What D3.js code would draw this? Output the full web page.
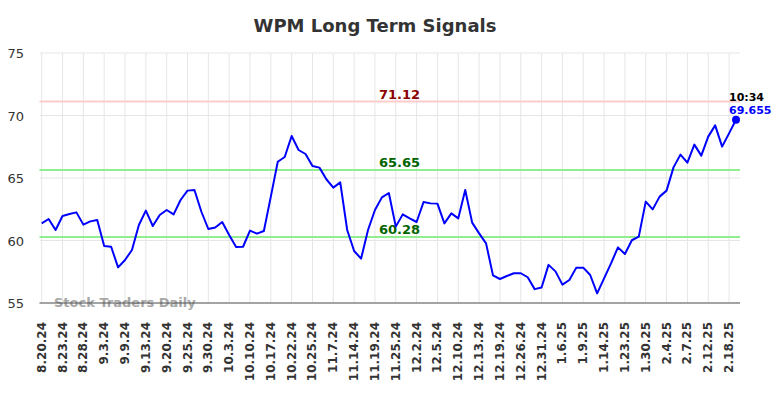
<!DOCTYPE html>
<html>
<head>
<meta charset="utf-8">
<script src="https://cdn.jsdelivr.net/npm/d3@7/dist/d3.min.js"></script>
<style>
  body { margin: 0; background: #fff; }
  svg { display: block; font-family: "DejaVu Sans", sans-serif; }
</style>
</head>
<body>
<svg id="chart" width="784" height="398"></svg>
<script>
const title = "WPM Long Term Signals";
const tickLabels = ["8.20.24","8.23.24","8.28.24","9.3.24","9.9.24","9.13.24","9.20.24","9.25.24","9.30.24","10.3.24","10.10.24","10.17.24","10.22.24","10.25.24","11.7.24","11.14.24","11.19.24","11.25.24","12.2.24","12.5.24","12.10.24","12.13.24","12.19.24","12.26.24","12.31.24","1.6.25","1.9.25","1.14.25","1.23.25","1.30.25","2.4.25","2.7.25","2.12.25","2.18.25"];
const prices = [61.37,61.72,60.84,61.96,62.12,62.25,61.27,61.53,61.64,59.56,
  59.50,57.85,58.44,59.24,61.24,62.39,61.16,62.04,62.44,62.09,
  63.24,63.99,64.04,62.30,60.92,61.04,61.48,60.44,59.48,59.50,
  60.79,60.55,60.76,63.51,66.30,66.68,68.36,67.24,66.92,65.96,
  65.83,64.90,64.23,64.65,60.84,59.16,58.55,60.84,62.44,63.45,
  63.80,61.11,62.09,61.77,61.48,63.08,62.97,62.95,61.37,62.17,
  61.77,64.04,61.43,60.57,59.77,57.21,56.92,57.16,57.38,57.38,
  57.06,56.11,56.24,58.05,57.53,56.47,56.84,57.83,57.83,57.24,
  55.77,56.97,58.17,59.45,58.92,60.02,60.31,63.11,62.49,63.51,
  63.99,65.85,66.87,66.23,67.67,66.79,68.31,69.21,67.51,68.57,
  69.655];
const levels = [71.12, 65.65, 60.28];
const levelKinds = ["resistance", "support", "support"];
const yTicks = [55, 60, 65, 70, 75];
const lastTime = "10:34";
const lastValue = "69.655";
const pointsPerTick = 3;

const svg = d3.select("#chart");
const pLeft = 39.5, pRight = 740, pTop = 53, pBottom = 303;

const x = d3.scaleLinear().domain([0, prices.length - 1]).range([41.7, 736]);
const y = d3.scaleLinear().domain([55, 75]).range([pBottom, pTop]);

const levelLine = { resistance: "#ffcccc", support: "#90ee90" };
const levelText = { resistance: "#8b0000", support: "#006400" };

// title
svg.append("text").attr("x", 375).attr("y", 32).attr("text-anchor", "middle")
  .attr("font-size", 18).attr("font-weight", "bold").attr("fill", "#333").text(title);

// grid
const g = svg.append("g");
g.selectAll(".vg").data(tickLabels).enter().append("line")
  .attr("x1", (d, i) => x(i * pointsPerTick)).attr("x2", (d, i) => x(i * pointsPerTick))
  .attr("y1", pTop).attr("y2", pBottom).attr("stroke", "#e6e6e6").attr("stroke-width", 1);
g.selectAll(".hg").data(yTicks).enter().append("line")
  .attr("x1", pLeft).attr("x2", pRight).attr("y1", d => y(d)).attr("y2", d => y(d))
  .attr("stroke", "#e6e6e6").attr("stroke-width", 1);

// y labels
svg.selectAll(".yl").data(yTicks).enter().append("text")
  .attr("x", 24).attr("y", d => y(d) + 5).attr("text-anchor", "end")
  .attr("font-size", 13).attr("fill", "#333").text(d => d);

// watermark
svg.append("text").attr("x", 54).attr("y", 307).attr("font-size", 13)
  .attr("font-weight", "bold").attr("fill", "#999").attr("opacity", 0.85).text("Stock Traders Daily");

// levels
levels.forEach((v, i) => {
  svg.append("line").attr("x1", pLeft).attr("x2", pRight).attr("y1", y(v)).attr("y2", y(v))
    .attr("stroke", levelLine[levelKinds[i]]).attr("stroke-width", 2);
  svg.append("text").attr("x", 399.5).attr("y", y(v) - 3).attr("text-anchor", "middle")
    .attr("font-size", 13).attr("font-weight", "bold").attr("fill", levelText[levelKinds[i]])
    .text(v.toFixed(2));
});

// bottom axis line
svg.append("line").attr("x1", pLeft).attr("x2", pRight).attr("y1", pBottom).attr("y2", pBottom)
  .attr("stroke", "#555").attr("stroke-width", 1.2);

// x labels
svg.selectAll(".xl").data(tickLabels).enter().append("text")
  .attr("transform", (d, i) => `translate(${x(i * pointsPerTick) + 4},${pBottom + 19}) rotate(-90)`)
  .attr("text-anchor", "end").attr("font-size", 12).attr("font-weight", "bold").attr("fill", "#333")
  .text(d => d);

// price line
const line = d3.line().x((d, i) => x(i)).y(d => y(d));
svg.append("path").datum(prices).attr("d", line).attr("fill", "none")
  .attr("stroke", "#0000ff").attr("stroke-width", 2).attr("stroke-linejoin", "round");

// last point
const li = prices.length - 1;
svg.append("circle").attr("cx", x(li)).attr("cy", y(prices[li])).attr("r", 4).attr("fill", "#0000ff");
svg.append("text").attr("x", x(li) - 7).attr("y", 101).attr("font-size", 11)
  .attr("font-weight", "bold").attr("fill", "#000").text(lastTime);
svg.append("text").attr("x", x(li) - 7).attr("y", 114).attr("font-size", 11)
  .attr("font-weight", "bold").attr("fill", "#0000ff").text(lastValue);
</script>
</body>
</html>
